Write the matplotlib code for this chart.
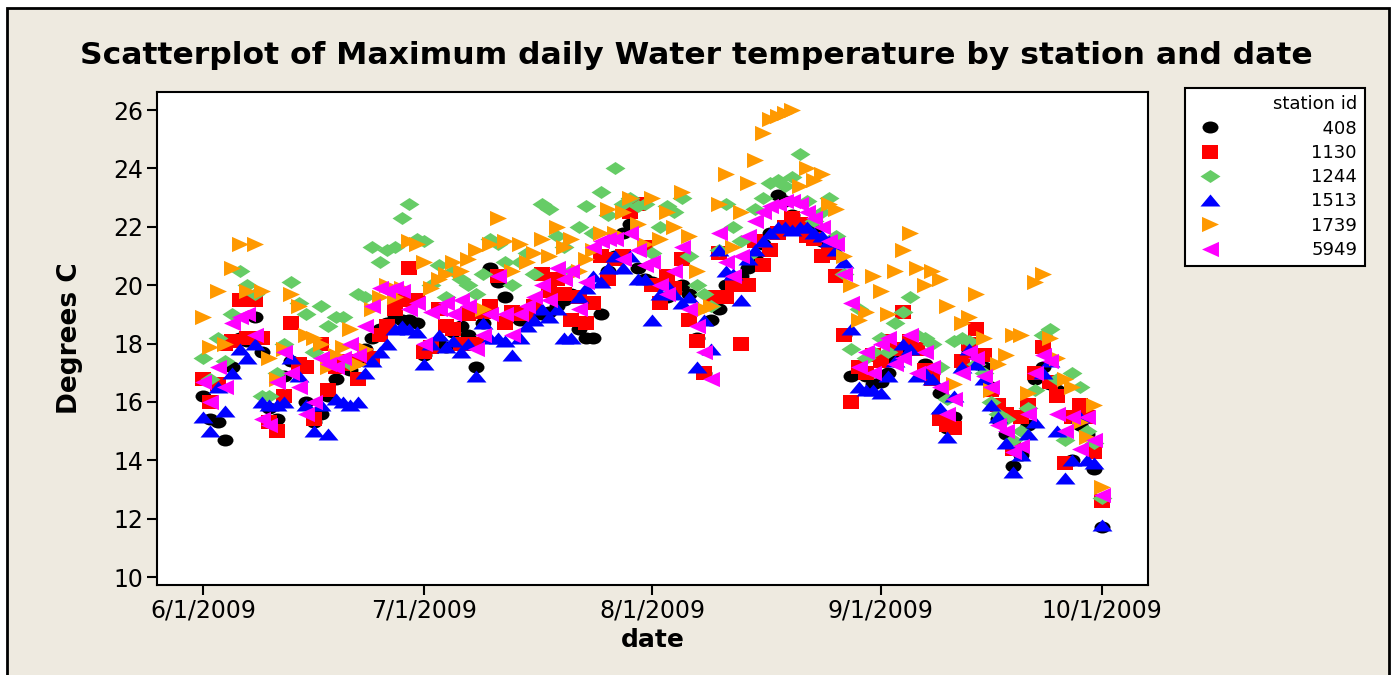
import matplotlib
matplotlib.use('Agg')
import matplotlib.pyplot as plt
import matplotlib.dates as mdates
from matplotlib.path import Path
from matplotlib.transforms import Affine2D
from matplotlib.patches import Rectangle
from matplotlib.ticker import FuncFormatter
import pandas as pd

# dias del 1 de junio al 1 de octubre de 2009
fechas = pd.date_range('2009-06-01', '2009-10-01', freq='D')

estaciones = ['408', '1130', '1244', '1513', '1739', '5949']

st408 = [16.2, 15.4, 15.3, 14.7, 17.2, 18.2, 18.1, 18.9, 17.7, 15.8,
         15.4, 16.9, 17.4, 17.3, 16.0, 15.3, 15.6, 16.2, 16.8, 17.2,
         17.1, 17.4, 17.8, 18.2, 18.5, 18.7, 18.9, 18.8, 18.8, 18.7,
         17.6, 17.9, 18.0, 17.9, 18.4, 18.6, 18.3, 17.2, 18.7, 20.6,
         20.1, 19.6, 19.1, 18.8, 18.9, 19.0, 19.0, 19.1, 19.3, 19.5,
         19.7, 18.5, 18.2, 18.2, 19.0, 20.5, 21.0, 21.8, 22.1, 20.6,
         20.2, 20.1, 19.5, 19.6, 19.8, 20.0, 19.7, 18.2, 17.0, 18.8,
         19.2, 20.0, 20.1, 20.3, 20.6, 21.0, 21.4, 21.8, 23.1, 22.9,
         22.4, 22.1, 22.0, 21.9, 21.5, 21.3, 20.3, 18.3, 16.9, 17.0,
         16.9, 16.6, 16.7, 17.0, 17.4, 17.8, 18.0, 17.8, 17.3, 17.0,
         16.3, 15.1, 15.5, 17.3, 17.7, 17.6, 17.2, 16.5, 15.4, 14.9,
         13.8, 14.2, 15.2, 16.8, 17.2, 16.6, 16.4, 13.9, 14.0, 15.2,
         14.9, 13.7, 11.7]

st1130 = [16.8, 16.0, 16.6, 18.0, 18.1, 19.5, 18.2, 19.5, 18.2, 15.3,
          15.0, 16.2, 18.7, 17.3, 17.2, 15.4, 18.0, 16.4, 17.2, 17.3,
          17.4, 16.8, 17.6, 17.5, 18.3, 18.6, 19.2, 19.5, 20.6, 19.5,
          17.7, 17.9, 19.2, 18.6, 18.5, 18.0, 19.0, 18.0, 19.1, 19.3,
          20.3, 18.7, 19.1, 19.0, 19.0, 19.3, 20.4, 19.8, 20.2, 19.7,
          18.8, 19.6, 18.7, 19.4, 21.0, 20.2, 20.9, 21.0, 22.5, 22.8,
          21.3, 20.0, 19.4, 20.3, 19.9, 20.9, 18.8, 18.1, 17.0, 19.6,
          21.1, 19.6, 20.0, 18.0, 20.0, 21.5, 20.7, 21.2, 21.8, 22.0,
          22.3, 22.1, 21.7, 21.6, 21.0, 21.1, 20.3, 18.3, 16.0, 17.2,
          17.0, 17.6, 17.4, 18.1, 17.8, 19.1, 18.1, 17.8, 17.1, 16.8,
          15.4, 15.2, 15.1, 17.4, 18.0, 18.5, 17.6, 16.4, 15.9, 15.6,
          14.4, 15.5, 15.9, 17.0, 17.9, 16.7, 16.2, 13.9, 15.5, 15.9,
          15.5, 14.3, 12.6]

st1244 = [17.5, 16.8, 18.2, 17.4, 19.0, 20.5, 20.0, 19.7, 16.2, 16.2,
          17.0, 18.0, 20.1, 19.4, 19.0, 17.7, 19.3, 18.6, 18.9, 18.9,
          17.3, 19.7, 19.6, 21.3, 20.8, 21.2, 21.3, 22.3, 22.8, 21.6,
          21.5, 20.0, 20.7, 19.6, 20.5, 20.2, 20.0, 19.7, 20.4, 21.6,
          21.4, 20.8, 20.0, 20.8, 21.1, 20.4, 22.8, 22.6, 21.7, 21.3,
          20.5, 22.0, 22.7, 21.8, 23.2, 22.4, 24.0, 22.8, 23.0, 22.7,
          22.8, 21.1, 22.0, 22.7, 22.5, 23.0, 21.0, 20.0, 19.7, 19.3,
          21.2, 22.8, 22.0, 21.5, 21.0, 22.6, 23.0, 23.5, 23.6, 23.4,
          23.7, 24.5, 22.9, 22.2, 22.5, 23.0, 21.7, 20.4, 17.8, 19.2,
          17.5, 17.7, 18.2, 17.7, 18.7, 19.1, 19.6, 18.3, 18.2, 18.0,
          17.2, 16.1, 18.1, 18.2, 18.1, 17.3, 17.0, 16.0, 15.6, 15.4,
          14.7, 15.0, 15.8, 16.4, 18.3, 18.5, 16.8, 14.7, 17.0, 16.5,
          15.0, 14.6, 12.7]

st1513 = [15.5, 15.0, 16.5, 15.7, 17.0, 17.8, 17.5, 18.0, 16.0, 15.9,
          15.9, 16.0, 17.5, 16.9, 15.9, 15.0, 15.9, 14.9, 16.1, 16.0,
          15.9, 16.0, 17.0, 17.4, 17.7, 18.0, 18.5, 18.6, 18.5, 18.4,
          17.3, 18.0, 18.3, 17.9, 18.1, 17.7, 18.0, 16.9, 18.7, 18.2,
          18.2, 18.1, 17.6, 18.2, 18.6, 18.8, 19.2, 18.9, 19.2, 18.2,
          18.2, 19.6, 19.9, 20.3, 20.1, 20.6, 21.0, 20.6, 21.0, 20.2,
          20.2, 18.8, 19.7, 20.0, 19.7, 19.4, 19.6, 17.2, 18.8, 17.8,
          21.2, 20.5, 20.4, 19.5, 20.9, 21.2, 21.5, 21.8, 22.0, 22.0,
          21.9, 22.0, 22.0, 21.8, 21.7, 21.5, 21.2, 20.8, 18.5, 16.5,
          16.4, 16.4, 16.3, 16.9, 17.4, 18.0, 17.8, 16.9, 17.0, 16.8,
          15.8, 14.8, 16.2, 17.2, 17.8, 17.3, 16.8, 15.9, 15.5, 14.6,
          13.6, 14.2, 14.9, 15.3, 17.0, 17.4, 15.0, 13.4, 14.0, 15.5,
          14.0, 13.9, 11.8]

st1739 = [18.9, 17.9, 19.8, 18.0, 20.6, 21.4, 19.8, 21.4, 19.8, 17.5,
          16.8, 17.8, 19.7, 19.3, 18.3, 18.2, 18.0, 17.2, 17.6, 17.9,
          18.5, 17.3, 17.8, 19.2, 19.6, 20.0, 19.6, 19.9, 21.5, 21.4,
          20.8, 19.9, 20.2, 20.4, 20.8, 20.5, 20.9, 21.2, 19.2, 21.4,
          22.3, 21.5, 20.5, 21.4, 20.8, 21.1, 21.6, 21.0, 22.0, 21.3,
          21.6, 20.5, 20.9, 21.2, 21.8, 22.6, 21.8, 22.5, 23.0, 22.1,
          21.4, 23.0, 21.6, 22.5, 22.0, 23.2, 21.7, 20.5, 19.2, 19.3,
          22.8, 23.8, 21.3, 22.5, 23.5, 24.3, 25.2, 25.7, 25.8, 25.9,
          26.0, 23.4, 24.0, 23.6, 23.8, 22.8, 22.6, 21.0, 20.0, 18.8,
          19.1, 20.3, 19.8, 19.0, 20.5, 21.2, 21.8, 20.6, 20.0, 20.5,
          20.2, 19.3, 16.6, 18.7, 18.9, 19.7, 18.2, 16.4, 17.3, 17.6,
          18.3, 18.3, 16.3, 20.1, 20.4, 18.2, 17.5, 16.8, 16.5, 15.3,
          14.8, 15.9, 13.1]

st5949 = [16.7, 16.0, 17.2, 16.5, 18.7, 18.9, 19.0, 18.3, 15.4, 15.2,
          16.7, 17.7, 17.0, 16.5, 15.6, 16.0, 17.5, 17.3, 17.2, 17.5,
          18.0, 17.6, 18.6, 19.3, 19.9, 19.8, 19.9, 19.8, 19.2, 19.4,
          18.0, 19.1, 19.2, 19.4, 19.0, 19.5, 19.3, 17.8, 18.3, 19.0,
          20.3, 19.0, 18.3, 19.0, 19.3, 19.6, 20.0, 19.5, 20.6, 20.2,
          20.5, 19.2, 20.1, 21.3, 21.5, 21.6, 21.6, 20.9, 21.8, 21.2,
          20.7, 20.8, 20.0, 19.7, 20.5, 21.3, 19.2, 18.6, 17.7, 16.8,
          21.8, 20.8, 20.3, 21.0, 21.7, 22.2, 22.5, 22.7, 22.8, 22.9,
          22.9, 22.8, 22.5, 22.3, 22.0, 21.5, 21.4, 20.4, 19.4, 17.2,
          17.7, 17.0, 18.0, 18.2, 17.3, 17.5, 18.3, 17.0, 17.7, 17.2,
          16.5, 15.6, 16.1, 17.0, 17.7, 17.5, 16.9, 16.5, 15.2, 15.0,
          14.3, 14.5, 15.6, 17.0, 17.6, 17.4, 15.6, 15.0, 15.5, 14.4,
          15.5, 14.7, 12.8]

series = [st408, st1130, st1244, st1513, st1739, st5949]
for s in series:
    assert len(s) == len(fechas)

# marcadores (algo achatados, como en la imagen original)
elipse = Path.unit_circle().transformed(Affine2D().scale(1, 0.75))
cuadro = [(-1, -0.85), (1, -0.85), (1, 0.85), (-1, 0.85)]
rombo = [(-1, 0), (0, 0.65), (1, 0), (0, -0.65)]
tri_arriba = [(-1, -0.6), (1, -0.6), (0, 0.6)]
tri_der = [(-1, -0.9), (1, 0), (-1, 0.9)]
tri_izq = [(1, -0.9), (-1, 0), (1, 0.9)]

marcadores = [elipse, cuadro, rombo, tri_arriba, tri_der, tri_izq]
tamanos = [11.5, 11.5, 14.4, 14.4, 12.2, 12.2]
colores = ['#000000', '#ff0000', '#66cc66', '#0000ff', '#ff9900', '#ff00ff']

fondo = '#eeeae0'
W, H = 1393, 675
fig = plt.figure(figsize=(W / 100, H / 100), dpi=100, facecolor='white')

# marco exterior beige
fig.patches.append(Rectangle((7 / W, -0.05), (1389 - 7) / W, 1 - 8 / H + 0.05,
                             transform=fig.transFigure, facecolor=fondo,
                             edgecolor='black', linewidth=2, zorder=-5))

ax = fig.add_axes([157 / W, 1 - 585 / H, (1148 - 157) / W, (585 - 92) / H])
ax.set_zorder(2)
ax.set_facecolor('white')

for s, nombre, m, ms, c in zip(series, estaciones, marcadores, tamanos, colores):
    ax.plot(fechas, s, linestyle='none', marker=m, ms=ms, color=c, mew=0,
            label='\u2007' * (4 - len(nombre)) + nombre)

inicio = pd.Timestamp('2009-06-01')
ax.set_xlim(mdates.date2num(inicio) - 6.25, mdates.date2num(inicio) + 128.3)
ax.set_ylim(9.73, 26.62)
ax.set_yticks(range(10, 27, 2))
ax.xaxis.set_major_locator(mdates.MonthLocator())
ax.xaxis.set_major_formatter(FuncFormatter(
    lambda v, p: '{0.month}/{0.day}/{0.year}'.format(mdates.num2date(v))))

for sp in ax.spines.values():
    sp.set_linewidth(1.5)
ax.tick_params(direction='out', length=7, width=1.5, labelsize=17, pad=3)

ax.set_xlabel('date', fontsize=18, fontweight='bold', labelpad=4)
ax.set_ylabel('Degrees C', fontsize=19, fontweight='bold', labelpad=22)
fig.text(0.5, 1 - 55 / H, 'Scatterplot of Maximum daily Water temperature by station and date',
         ha='center', va='center', fontsize=22.6, fontweight='bold')

leg = fig.legend(loc='upper left', bbox_to_anchor=(1185 / W, 1 - 88 / H),
                 bbox_transform=fig.transFigure, borderaxespad=0,
                 title='station id', fontsize=13, title_fontsize=13,
                 frameon=True, fancybox=False, edgecolor='black', framealpha=1,
                 handlelength=2.0, handletextpad=4.6, borderpad=0.4,
                 labelspacing=0.35, numpoints=1)
leg.get_frame().set_linewidth(1.5)
leg._legend_box.align = 'right'

fig.savefig('out.png', dpi=100, facecolor=fig.get_facecolor())
